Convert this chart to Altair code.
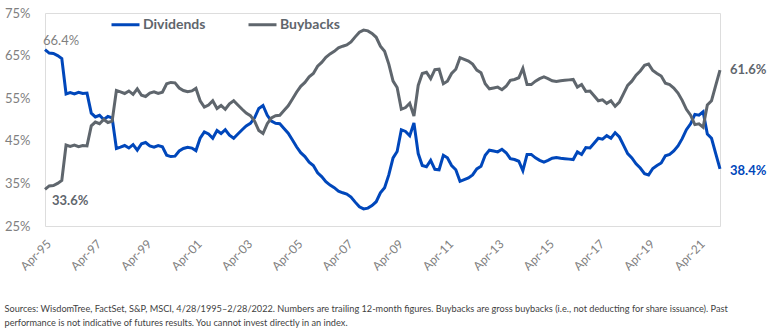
import altair as alt
import pandas as pd

dividends = [
    66.4, 65.6, 65.5, 65.0, 64.3, 56.0, 56.3, 56.0, 56.4, 56.1,
    56.2, 51.5, 50.6, 51.0, 50.0, 50.7, 50.4, 43.2, 43.5, 43.9,
    43.3, 44.1, 42.8, 44.3, 44.6, 43.8, 43.5, 43.9, 43.6, 41.6,
    41.3, 41.4, 42.6, 43.2, 43.5, 43.3, 42.7, 45.6, 47.1, 46.6,
    45.6, 47.4, 46.7, 47.6, 46.3, 45.6, 46.6, 47.6, 48.5, 49.1,
    50.4, 52.6, 53.3, 51.0, 49.6, 49.1, 49.0, 47.9, 46.8, 45.2,
    43.6, 42.2, 41.3, 40.0, 39.2, 37.5, 36.6, 35.4, 34.6, 34.0,
    33.2, 32.8, 32.5, 31.8, 30.6, 29.5, 29.0, 29.2, 29.8, 30.7,
    32.8, 34.0, 37.0, 41.0, 42.5, 47.6, 47.2, 46.2, 49.2, 42.0,
    39.2, 38.9, 40.4, 38.3, 38.2, 41.6, 41.0, 39.2, 38.2, 35.5,
    35.9, 36.3, 37.0, 38.4, 39.0, 41.6, 42.8, 42.6, 42.4, 43.0,
    42.2, 40.8, 40.6, 40.2, 38.0, 41.8, 41.8, 41.0, 40.4, 40.0,
    40.4, 40.9, 41.1, 40.9, 40.8, 40.7, 40.6, 42.4, 41.8, 43.4,
    43.3, 44.5, 45.6, 45.4, 46.2, 45.6, 46.9, 45.9, 44.0, 42.0,
    41.0, 39.6, 38.6, 37.3, 37.0, 38.5, 39.2, 39.8, 41.5, 41.8,
    42.6, 43.8, 45.5, 47.6, 49.0, 51.2, 51.0, 51.8, 46.6, 45.6,
    42.0, 38.4,
]

buybacks = [
    33.6, 34.4, 34.5, 35.0, 35.7, 44.0, 43.7, 44.0, 43.6, 43.9,
    43.8, 48.5, 49.4, 49.0, 50.0, 49.3, 49.6, 56.8, 56.5, 56.1,
    56.7, 55.9, 57.2, 55.7, 55.4, 56.2, 56.5, 56.1, 56.4, 58.4,
    58.7, 58.6, 57.4, 56.8, 56.5, 56.7, 57.3, 54.4, 52.9, 53.4,
    54.4, 52.6, 53.3, 52.4, 53.7, 54.4, 53.4, 52.4, 51.5, 50.9,
    49.6, 47.4, 46.7, 49.0, 50.4, 50.9, 51.0, 52.1, 53.2, 54.8,
    56.4, 57.8, 58.7, 60.0, 60.8, 62.5, 63.4, 64.6, 65.4, 66.0,
    66.8, 67.2, 67.5, 68.2, 69.4, 70.5, 71.0, 70.8, 70.2, 69.3,
    67.2, 66.0, 63.0, 59.0, 57.5, 52.4, 52.8, 53.8, 50.8, 58.0,
    60.8, 61.1, 59.6, 61.7, 61.8, 58.4, 59.0, 60.8, 61.8, 64.5,
    64.1, 63.7, 63.0, 61.6, 61.0, 58.4, 57.2, 57.4, 57.6, 57.0,
    57.8, 59.2, 59.4, 59.8, 62.0, 58.2, 58.2, 59.0, 59.6, 60.0,
    59.6, 59.1, 58.9, 59.1, 59.2, 59.3, 59.4, 57.6, 58.2, 56.6,
    56.7, 55.5, 54.4, 54.6, 53.8, 54.4, 53.1, 54.1, 56.0, 58.0,
    59.0, 60.4, 61.4, 62.7, 63.0, 61.5, 60.8, 60.2, 58.5, 58.2,
    57.4, 56.2, 54.5, 52.4, 51.0, 48.8, 49.0, 48.2, 53.4, 54.4,
    58.0, 61.6,
]

series_names = ["Dividends", "Buybacks"]
series_colors = ["#0047BB", "#5F666D"]
tick_years = list(range(1995, 2022, 2))
y_ticks = [25, 35, 45, 55, 65, 75]
footnote = [
    "Sources: WisdomTree, FactSet, S&P, MSCI, 4/28/1995\u20132/28/2022. Numbers are trailing 12-month figures. Buybacks are gross buybacks (i.e., not deducting for share issuance). Past",
    "performance is not indicative of futures results. You cannot invest directly in an index.",
]

FONT = "Lato"
dates = pd.date_range("1995-04-01", periods=len(dividends), freq="2MS")
df = pd.concat([
    pd.DataFrame({"date": dates, "series": "Dividends", "value": dividends}),
    pd.DataFrame({"date": dates, "series": "Buybacks", "value": buybacks}),
])
df["date"] = df["date"].dt.strftime("%Y-%m-%d")

x_enc = alt.X(
    "date:T",
    scale=alt.Scale(domain=[df["date"].iloc[0], df["date"].iloc[len(dividends) - 1]]),
    axis=alt.Axis(
        title=None,
        values=[alt.DateTime(year=y, month=4, date=1) for y in tick_years],
        format="%b-%y",
        labelAngle=-45,
        labelFont=FONT,
        labelFontSize=12,
        labelColor="#7F7F7F",
        labelPadding=12,
        ticks=False,
        domain=False,
        grid=False,
    ),
)
y_enc = alt.Y(
    "value:Q",
    scale=alt.Scale(domain=[25, 75], nice=False, zero=False),
    axis=alt.Axis(
        title=None,
        values=y_ticks,
        labelExpr="datum.value + '%'",
        labelFont=FONT,
        labelFontSize=13,
        labelColor="#7F7F7F",
        labelPadding=15,
        ticks=False,
        domain=False,
        grid=False,
    ),
)

lines = alt.Chart(df).mark_line(strokeWidth=3).encode(
    x=x_enc,
    y=y_enc,
    color=alt.Color(
        "series:N",
        scale=alt.Scale(domain=series_names, range=series_colors),
        sort=series_names,
        legend=alt.Legend(
            title=None,
            orient="none",
            legendX=65,
            legendY=-4,
            direction="horizontal",
            symbolType="stroke",
            symbolSize=784,
            symbolStrokeWidth=3,
            labelFont=FONT,
            labelFontSize=14,
            labelFontWeight="bold",
            labelColor="#5F666D",
            labelOffset=2,
            columnPadding=36,
        ),
    ),
)

first_div = pd.DataFrame({"date": [df["date"].iloc[0]], "value": [dividends[0]], "label": [f"{dividends[0]}%"]})
first_buy = pd.DataFrame({"date": [df["date"].iloc[0]], "value": [buybacks[0]], "label": [f"{buybacks[0]}%"]})
last_div = pd.DataFrame({"date": [df["date"].iloc[len(dividends) - 1]], "value": [dividends[-1]], "label": [f"{dividends[-1]}%"]})
last_buy = pd.DataFrame({"date": [df["date"].iloc[len(dividends) - 1]], "value": [buybacks[-1]], "label": [f"{buybacks[-1]}%"]})

def label_layer(data, color, weight, dx, dy):
    return alt.Chart(data).mark_text(
        font=FONT, fontSize=13, fontWeight=weight, color=color,
        align="left", baseline="middle", dx=dx, dy=dy,
    ).encode(x="date:T", y="value:Q", text="label:N")

chart = alt.layer(
    lines,
    label_layer(first_div, "#7F7F7F", "normal", -2, -9),
    label_layer(first_buy, "#5F666D", "bold", 7, 12),
    label_layer(last_div, "#0047BB", "bold", 10, 2),
    label_layer(last_buy, "#5F666D", "bold", 10, 0),
).properties(
    width=675,
    height=213,
    autosize=alt.AutoSizeParams(type="none"),
    padding={"left": 45, "top": 13, "right": 52, "bottom": 106},
    title=alt.TitleParams(
        text=footnote,
        orient="bottom",
        anchor="start",
        frame="bounds",
        font=FONT,
        fontSize=9.2,
        fontWeight="normal",
        color="#3F3F3F",
        lineHeight=14,
        offset=33,
    ),
).configure_view(stroke=None).configure(background="white")

chart.save("out.html", embed_options={"renderer": "svg", "actions": False})
